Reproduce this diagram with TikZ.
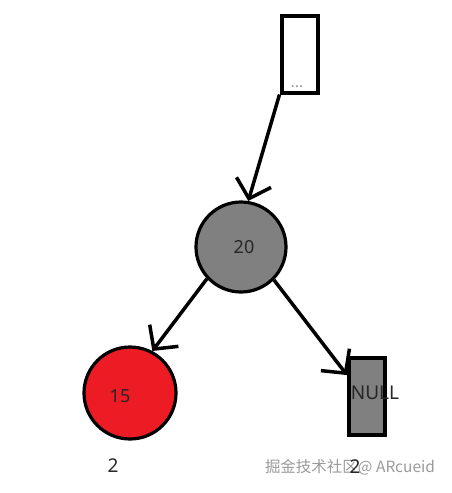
\documentclass[tikz,border=0pt]{standalone}
\usepackage{fontspec}
\setmainfont{Noto Sans}
\newfontfamily\cjk{Noto Sans CJK SC}
\usetikzlibrary{arrows.meta,positioning}
\definecolor{NodeGray}{HTML}{808080}
\definecolor{NodeRed}{HTML}{ED1C24}
\definecolor{TxtDark}{HTML}{262626}
\definecolor{MarkGray}{HTML}{9A9A9A}
\tikzset{
    block/.style = {draw, rectangle, line width=4pt,
        minimum width=36pt, minimum height=77pt, inner sep=0pt},
    tnode/.style = {draw, circle, line width=3.2pt, minimum size=90pt,
        inner sep=0pt, text=TxtDark, font=\fontsize{18}{20}\selectfont},
    arrow/.style = {draw, line width=3.5pt,
        -{Straight Barb[length=17pt,width=36pt]}},
    height/.style = {text=TxtDark, font=\fontsize{19}{21}\selectfont}
}
\begin{document}
\begin{tikzpicture}[x=1pt,y=-1pt]
                    \useasboundingbox (0,0) rectangle (451,493);
                    \node[block] at (299.5,54) (top) {};
                    \node[text=MarkGray,font=\fontsize{16}{16}\selectfont] at (297,87) (dots) {...};
                    \node[tnode,fill=NodeGray] at (241,247) (n20) {\hspace{6pt}20};
                    \node[tnode,fill=NodeRed,minimum size=92pt,label={[text=TxtDark,font=\fontsize{18}{20}\selectfont,xshift=-10pt,yshift=-3pt]center:15}] at (130,393) (n15) {};
                    \node[block,fill=NodeGray,minimum height=77pt] at (367,396.5) (null) {};
                    \node[text=TxtDark,font=\fontsize{19}{21}\selectfont] at (375,393) (nulltxt) {NULL};
                    \draw[arrow] (top.south west) -- (n20.81);
                    \draw[arrow] (n20.223) -- (n15.62);
                    \draw[arrow] (n20.315) -- (null.133);
                    \node[height] at (113,466) (h15) {2};
                    \node[text=MarkGray,font=\cjk\fontsize{15.5}{17}\selectfont] at (350,467) (mark) {掘金技术社区@ ARcueid};
                    \node[height] at (355,467) (hnull) {2};
\end{tikzpicture}
\end{document}
